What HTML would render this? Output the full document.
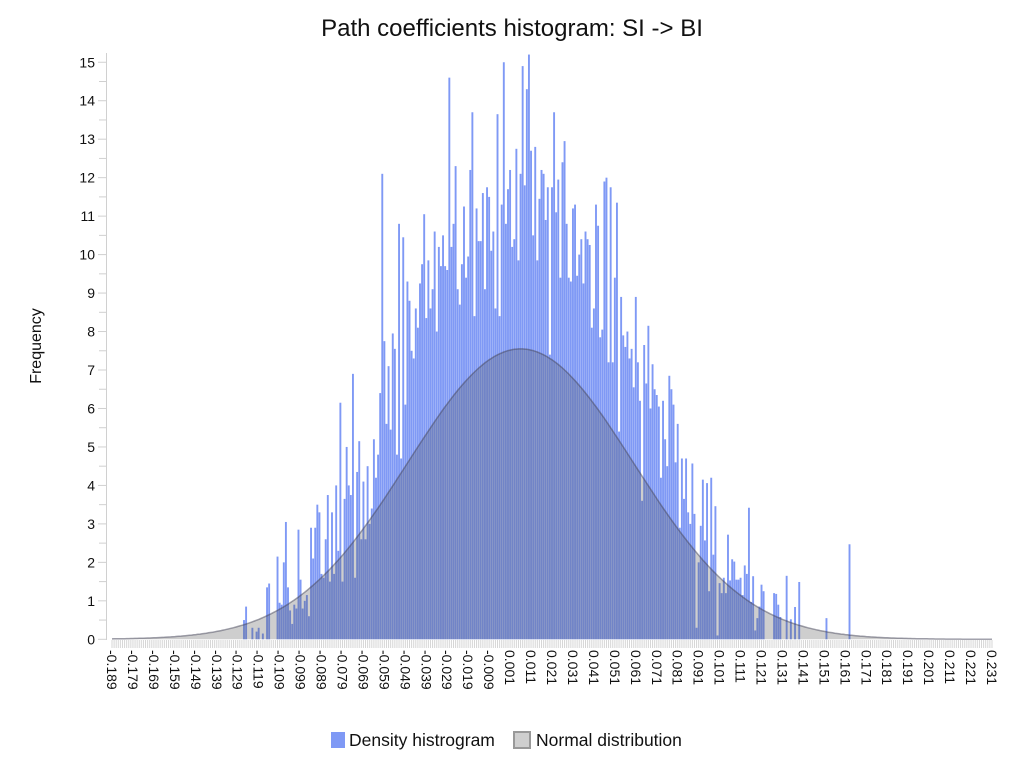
<!DOCTYPE html>
<html><head><meta charset="utf-8"><style>
body{margin:0;background:#fff;}
svg{display:block;font-family:"Liberation Sans",sans-serif;}
</style></head><body>
<svg id="chart" width="1024" height="768">
<text x="512" y="36" text-anchor="middle" font-size="24" fill="#111">Path coefficients histogram: SI -&gt; BI</text>
<text transform="translate(41,346) rotate(-90)" text-anchor="middle" font-size="16" fill="#111">Frequency</text>
<g id="ticksband"></g>
<g id="yaxis"></g>
<g id="bars"></g>
<g id="curve"></g>
<g id="xaxis"></g>
<g>
<g>
<rect x="331" y="732" width="14" height="16" fill="#7f99f5"></rect>
<text x="349" y="746" font-size="17.5" fill="#111">Density histrogram</text></g>
<g>
<rect x="514" y="732" width="16" height="16" fill="#cfcfcf" stroke="#999" stroke-width="2"></rect>
<text x="536" y="746" font-size="17.5" fill="#111">Normal distribution</text></g>
</g>
</svg>
<script>
const binStart = -0.126;
const binStep = 0.001;
const freq = [
0.5,0.85,0,0,0.3,0,0.2,0.3,0,0.15,0,1.35,1.45,0,0,0,2.15,0.95,0.9,2.0,3.05,1.35,0.75,0.4,0.9,0.8,2.85,1.55,0.8,1.0,1.15,0.6,
2.9,2.1,2.9,3.5,3.3,1.7,1.6,2.6,3.75,1.5,3.3,1.7,4.0,2.3,6.15,1.5,3.65,5.0,4.0,3.75,6.9,1.6,4.35,5.15,2.6,4.1,2.6,4.5,3.0,3.4,5.2,4.2,4.8,6.4,
12.1,7.75,5.6,7.1,5.45,7.95,7.55,4.8,10.8,4.7,10.45,6.1,9.3,8.8,7.5,7.3,8.6,8.1,9.25,9.75,11.05,8.35,9.85,8.6,9.1,10.6,8.0,10.2,9.7,10.5,9.7,9.6,14.6,10.2,10.8,12.3,9.1,8.7,9.75,11.25,9.4,9.95,12.2,13.7,8.4,11.2,10.35,10.35,11.6,9.1,11.75,11.5,10.1,10.6,8.6,13.65,8.4,11.3,15.0,10.8,11.7,12.2,10.2,10.4,12.75,9.85,12.1,14.9,11.8,14.3,15.2,12.7,10.5,12.8,9.85,
11.45,12.2,12.1,10.9,11.75,7.4,11.75,13.7,11.1,11.95,9.4,12.4,12.95,10.8,9.4,9.3,11.2,11.3,9.45,10.0,10.4,9.25,10.6,10.4,10.25,8.1,8.6,11.3,10.75,7.85,8.05,11.9,12.0,7.2,11.75,7.2,9.4,11.35,5.4,8.9,7.9,7.6,8.0,7.3,7.55,6.55,8.9,7.2,6.2,3.6,7.65,6.65,8.15,6.0,7.15,6.5,6.35,6.05,4.2,6.2,5.2,4.5,6.85,6.5,6.1,4.6,5.6,2.9,4.7,3.65,4.7,
3.3,3.0,4.57,3.26,0.3,2.0,2.95,4.15,2.57,4.06,1.25,4.2,2.2,3.46,0.1,1.46,1.2,1.6,1.2,2.72,1.53,2.08,2.02,1.55,1.55,1.6,1.15,1.92,1.7,3.42,0.97,1.64,0.23,0.55,0.85,1.42,1.25,0,0,0,0,1.2,1.18,0.9,0.58,0,0,1.65,0,0.52,0,0.84,0,1.49,
0,0,0,0,0,0,0,0,0,0,0,0,0.55,0,0,0,0,0,0,0,0,0,0,2.47
];
const normMean = [0.006];
const normSd = [0.054];
const normPeak = [7.55];
const xTickLabels = ["-0.189","-0.179","-0.169","-0.159","-0.149","-0.139","-0.129","-0.119","-0.109","-0.099","-0.089","-0.079","-0.069","-0.059","-0.049","-0.039","-0.029","-0.019","-0.009","0.001","0.011","0.021","0.031","0.041","0.051","0.061","0.071","0.081","0.091","0.101","0.111","0.121","0.131","0.141","0.151","0.161","0.171","0.181","0.191","0.201","0.211","0.221","0.231"];
const yTicks = [0,1,2,3,4,5,6,7,8,9,10,11,12,13,14,15];

const NS="http://www.w3.org/2000/svg";
const X0=112, XMIN=-0.189, XSCALE=2095.2;
const Y0=639.3, YSCALE=38.47;
const xs=v=>X0+(v-XMIN)*XSCALE;
const ys=f=>Y0-f*YSCALE;
function mk(tag,attrs,parent){const e=document.createElementNS(NS,tag);for(const k in attrs)e.setAttribute(k,attrs[k]);parent.appendChild(e);return e;}

const tb=document.getElementById('ticksband');
for(let i=0;i<=420;i++){
  const x=xs(XMIN+i*0.001);
  const t=mk('line',{x1:x,x2:x,y1:640,y2:648,stroke:'#d6d6d6','stroke-width':1},tb);
  
  
}

const ya=document.getElementById('yaxis');
mk('line',{x1:106.5,x2:106.5,y1:53,y2:640,stroke:'#d0d0d0','stroke-width':1},ya);
for(let k=0;k<=30;k++){
  const v=k/2, y=ys(v);
  mk('line',{x1:(k%2?99:98),x2:106,y1:y,y2:y,stroke:'#d0d0d0','stroke-width':1},ya);
}
yTicks.forEach(v=>{
  const t=mk('text',{x:95,y:ys(v)+5,'text-anchor':'end','font-size':14,fill:'#111'},ya);
  t.textContent=v;
  
  
});

const bg=document.getElementById('bars');
freq.forEach((f,i)=>{
  if(f<=0)return;
  const v=binStart+i*binStep;
  const x=xs(v);
  const r=mk('rect',{x:x-0.95,y:ys(f),width:1.9,height:Y0-ys(f),fill:'#7f99f5'},bg);
  
  
});

const cg=document.getElementById('curve');
let pts=[];
for(let i=0;i<=420;i++){
  const v=XMIN+i*0.001;
  const z=(v-normMean[0])/normSd[0];
  pts.push([xs(v),ys(normPeak[0]*Math.exp(-0.5*z*z))]);
}
const line=pts.map((p,i)=>(i?'L':'M')+p[0].toFixed(1)+','+p[1].toFixed(1)).join('');
const area=mk('path',{d:line+`L${xs(0.231)},${Y0}L${X0},${Y0}Z`,fill:'rgba(80,80,80,0.28)'},cg);


const cl=mk('path',{d:line,fill:'none',stroke:'rgba(70,70,90,0.5)','stroke-width':1.5},cg);



const xa=document.getElementById('xaxis');
xTickLabels.forEach(s=>{
  const x=xs(parseFloat(s));
  const t=mk('text',{transform:`translate(${x-5},650) rotate(90)`,'font-size':14,fill:'#111'},xa);
  t.textContent=s;
  
  
});
</script>
</body></html>
